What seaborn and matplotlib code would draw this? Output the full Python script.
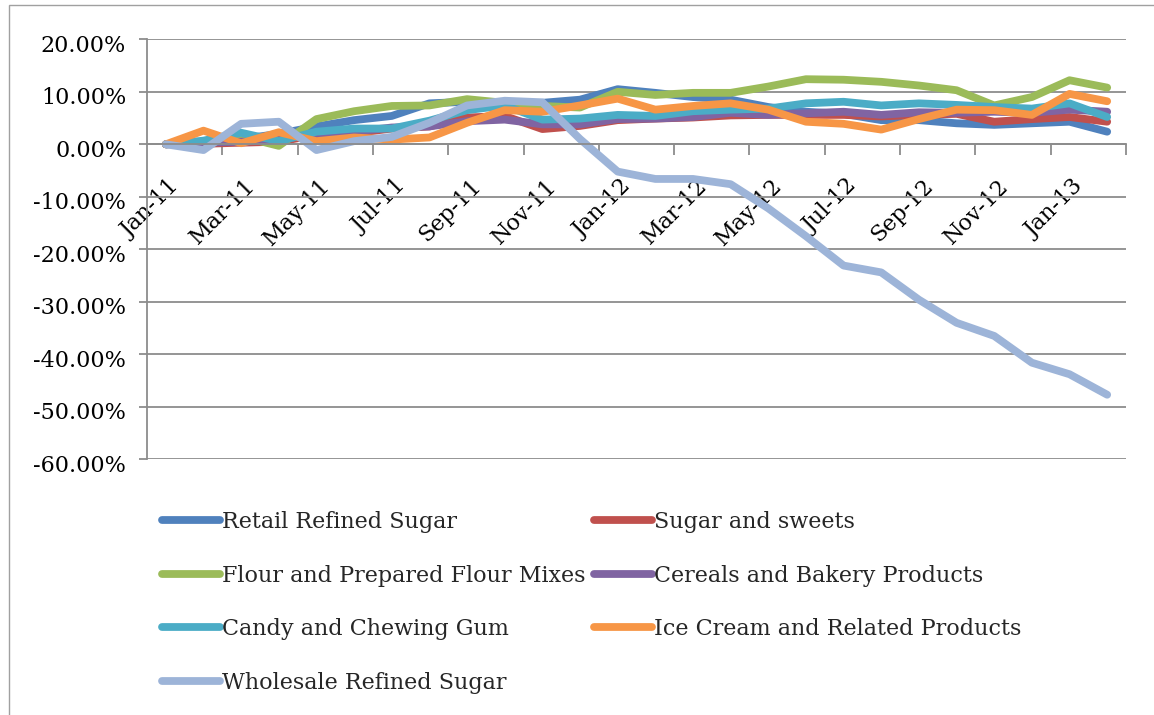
import matplotlib
matplotlib.use("Agg")
import matplotlib.pyplot as plt
import matplotlib.transforms as mtransforms
from matplotlib.patches import Rectangle
from matplotlib.ticker import FuncFormatter, FixedLocator
import pandas as pd
import seaborn as sns

# Monthly price change since January 2011 (percent)
months = ["Jan-11", "Feb-11", "Mar-11", "Apr-11", "May-11", "Jun-11", "Jul-11",
          "Aug-11", "Sep-11", "Oct-11", "Nov-11", "Dec-11", "Jan-12", "Feb-12",
          "Mar-12", "Apr-12", "May-12", "Jun-12", "Jul-12", "Aug-12", "Sep-12",
          "Oct-12", "Nov-12", "Dec-12", "Jan-13", "Feb-13"]

retail_refined_sugar = [0.0, 0.3, 1.0, 2.0, 3.4, 4.6, 5.4, 7.8, 8.1, 7.8, 7.9, 8.5, 10.5,
                        9.8, 9.0, 8.5, 7.1, 6.2, 5.8, 4.6, 4.6, 4.0, 3.7, 4.0, 4.3, 2.4]
sugar_and_sweets = [0.0, 0.1, 0.3, 0.5, 1.8, 2.1, 3.0, 3.4, 5.1, 5.4, 2.9, 3.5, 4.6,
                    4.9, 5.1, 5.5, 5.6, 5.6, 5.6, 5.3, 5.6, 5.8, 4.3, 4.8, 5.2, 4.3]
flour_mixes = [0.0, 0.5, 1.5, -0.3, 4.8, 6.3, 7.3, 7.4, 8.6, 7.9, 7.3, 7.0, 10.0,
               9.4, 9.8, 9.8, 11.0, 12.4, 12.3, 11.9, 11.2, 10.3, 7.4, 9.0, 12.2, 10.8]
cereals_bakery = [0.0, 0.3, 0.5, 0.8, 2.1, 2.4, 3.2, 3.4, 4.4, 4.7, 3.8, 3.8, 4.8,
                  4.9, 5.2, 6.0, 5.6, 5.9, 6.2, 5.6, 6.1, 6.0, 6.2, 6.0, 6.6, 6.2]
candy_gum = [0.0, 0.7, 2.2, 0.6, 2.4, 3.0, 3.0, 4.5, 6.5, 7.4, 4.7, 4.9, 5.6,
             5.4, 6.3, 6.6, 6.8, 7.8, 8.1, 7.4, 7.8, 7.5, 7.1, 6.8, 7.8, 5.2]
ice_cream = [0.0, 2.6, 0.2, 2.3, 0.6, 1.3, 0.9, 1.3, 4.1, 6.5, 6.2, 7.4, 8.7,
             6.6, 7.3, 7.8, 6.6, 4.3, 3.9, 2.8, 4.8, 6.6, 6.5, 5.6, 9.6, 8.2]
wholesale_refined_sugar = [0.0, -1.1, 3.9, 4.3, -1.1, 0.6, 1.4, 4.1, 7.4, 8.3, 8.0, 1.0,
                           -5.2, -6.6, -6.6, -7.6, -12.2, -17.5, -23.1, -24.4, -29.6,
                           -34.0, -36.5, -41.6, -43.8, -47.7]

series_names = ["Retail Refined Sugar", "Sugar and sweets", "Flour and Prepared Flour Mixes",
                "Cereals and Bakery Products", "Candy and Chewing Gum",
                "Ice Cream and Related Products", "Wholesale Refined Sugar"]
series_values = [retail_refined_sugar, sugar_and_sweets, flour_mixes, cereals_bakery,
                 candy_gum, ice_cream, wholesale_refined_sugar]
palette = ["#4F81BD", "#C0504D", "#9BBB59", "#8064A2", "#4BACC6", "#F79646", "#9DB4D8"]
y_ticks = [20, 10, 0, -10, -20, -30, -40, -50, -60]

frames = []
for name, vals in zip(series_names, series_values):
    frames.append(pd.DataFrame({"idx": range(len(months)), "change": vals, "series": name}))
df = pd.concat(frames, ignore_index=True)

sns.set_theme(style="white")
plt.rcParams["font.family"] = ["DejaVu Serif"]

W, H = 1154, 715
fig = plt.figure(figsize=(W / 100, H / 100), dpi=100)
ax = fig.add_axes([147 / W, 1 - 459.3 / H, (1126 - 147) / W, (459.3 - 39.3) / H])

sns.lineplot(data=df, x="idx", y="change", hue="series", hue_order=series_names,
             palette=palette, linewidth=5.6, ax=ax, legend=True, sort=False,
             solid_capstyle="round", solid_joinstyle="round")

ax.set_xlim(-0.5, len(months) - 0.5)
ax.set_ylim(-60, 20)
ax.set_xlabel("")
ax.set_ylabel("")

# horizontal gridlines
ax.yaxis.set_major_locator(FixedLocator(y_ticks))
ax.yaxis.set_major_formatter(FuncFormatter(lambda v, p: f"{v:.2f}%"))
ax.grid(axis="y", color="#8c8c8c", linewidth=1.3)
ax.grid(axis="x", visible=False)
ax.set_axisbelow(True)

for side in ["top", "right"]:
    ax.spines[side].set_visible(False)
ax.spines["left"].set_color("#8c8c8c")
ax.spines["left"].set_linewidth(1.3)
ax.spines["bottom"].set_color("#8c8c8c")
ax.spines["bottom"].set_linewidth(1.3)
ax.spines["bottom"].set_position(("data", 0))

ax.tick_params(axis="y", which="major", direction="out", length=6, width=1.3,
               color="#8c8c8c", labelsize=16, labelcolor="black", pad=9, left=True)
y_shift = mtransforms.ScaledTranslation(0, -4 / 100, fig.dpi_scale_trans)
for lbl in ax.get_yticklabels():
    lbl.set_transform(lbl.get_transform() + y_shift)

# category labels every two months, tick marks on category boundaries
label_pos = list(range(0, len(months), 2))
ax.set_xticks(label_pos)
ax.set_xticklabels([months[i] for i in label_pos], rotation=45, ha="right",
                   va="top", rotation_mode="anchor")
ax.set_xticks([b - 0.5 for b in range(2, len(months) + 1, 2)], minor=True)
ax.tick_params(axis="x", which="major", length=0, labelsize=16, labelcolor="black", pad=22)
ax.tick_params(axis="x", which="minor", direction="out", length=8, width=1.3,
               color="#8c8c8c", bottom=True)
x_shift = mtransforms.ScaledTranslation(3 / 100, 0, fig.dpi_scale_trans)
for lbl in ax.get_xticklabels():
    lbl.set_transform(lbl.get_transform() + x_shift)

# legend laid out row by row in two columns
handles, labels = ax.get_legend_handles_labels()
ax.get_legend().remove()
order = [0, 2, 4, 6, 1, 3, 5]
leg = fig.legend([handles[i] for i in order], [labels[i] for i in order],
                 loc="upper left", ncol=2,
                 bbox_to_anchor=(162 / W, 1 - 511 / H), frameon=False,
                 fontsize=16, handlelength=2.6, handletextpad=0.12,
                 columnspacing=0.35, labelspacing=1.42, borderpad=0, borderaxespad=0)
for line in leg.get_lines():
    line.set_linewidth(5.6)
    line.set_solid_capstyle("round")

# chart frame
fig.patches.append(Rectangle((9 / W, -0.1), 1.2, 1 - 5 / H + 0.1, transform=fig.transFigure,
                             fill=False, edgecolor="#a0a0a0", linewidth=1.0))

fig.savefig("out.png", dpi=100)
